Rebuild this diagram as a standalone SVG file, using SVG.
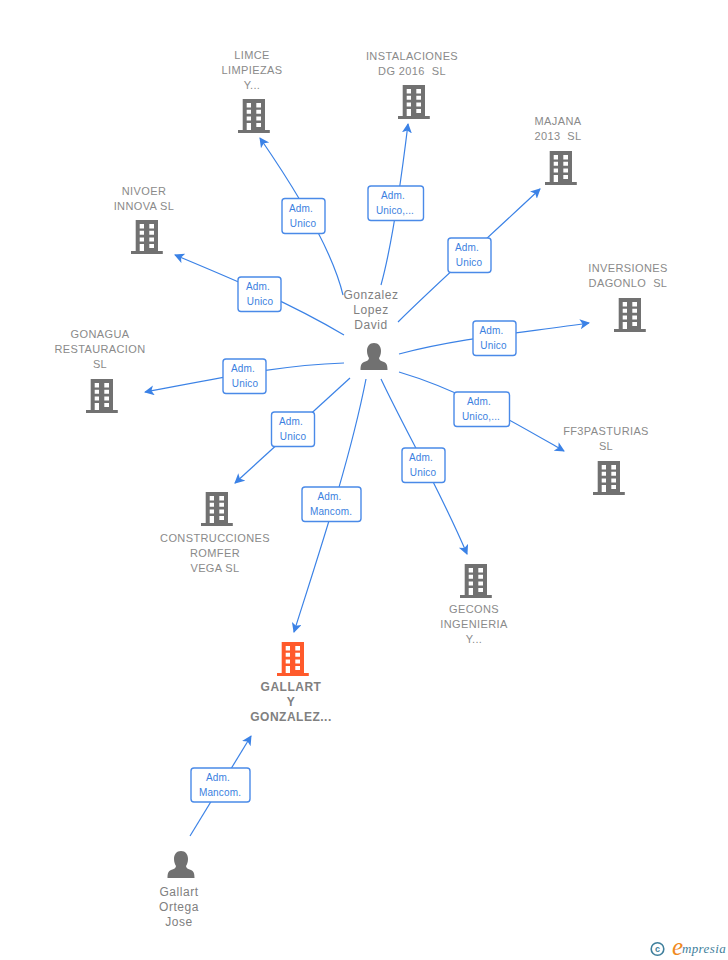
<svg xmlns="http://www.w3.org/2000/svg" xmlns:xlink="http://www.w3.org/1999/xlink" width="728" height="960" viewBox="0 0 728 960">
<style>
text{font-family:"Liberation Sans",Arial,sans-serif;text-anchor:middle;white-space:pre}
.co{font-size:11px;letter-spacing:.38px;fill:#8a8a8a}
.main{font-size:12px;letter-spacing:.5px;font-weight:bold;fill:#808080}
.pe{font-size:12px;letter-spacing:.55px;fill:#808080}
.lb{font-size:10px;letter-spacing:.15px;fill:#3b7fe0}
.box{fill:#fff;stroke:#4a8ae8;stroke-width:1.4}
.c{fill:none;stroke:#3b82e6;stroke-width:1.2;marker-end:url(#a)}
</style>
<defs>
<marker id="a" markerUnits="userSpaceOnUse" markerWidth="12" markerHeight="12" refX="9" refY="5" orient="auto"><path d="M0 0L10 5L0 10L2.500 5Z" fill="#3b82e6"/></marker>
<g id="b"><path fill-rule="evenodd" d="M-11.300 0H11V31H15.800V34H-16V31H-11.300ZM-7.300 4V8.400H-3V4ZM2.300 4V8.400H7V4ZM-7.300 10.700V14.700H-3V10.700ZM2.300 10.700V14.700H7V10.700ZM-7.300 17.400V21.400H-3V17.400ZM2.300 17.400V21.400H7V17.400ZM-7.300 24V31H-3V24ZM2.300 24V28H7V24Z"/></g>
<path id="p" d="M0 0C4.500 0 7 3.500 7 8C7 11 6 13.500 5 15C5 17 7 18 10 19C12.500 20 13.500 22 13.500 27H-13.500C-13.500 22 -12.500 20 -10 19C-7 18 -5 17 -5 15C-6 13.500 -7 11 -7 8C-7 3.500 -4.500 0 0 0Z" fill="#717171"/>
</defs>
<g id="connectors">
<path class="c" d="M343 295C337 270 320 225 260 138"/>
<path class="c" d="M381 285C392 245 400 190 408 124"/>
<path class="c" d="M398 322C430 290 480 245 540 189"/>
<path class="c" d="M399 354C460 338 520 333 589 323"/>
<path class="c" d="M399 372C460 390 510 420 564 451"/>
<path class="c" d="M381 379C405 430 440 490 467 554"/>
<path class="c" d="M366 379C350 460 320 550 294 632"/>
<path class="c" d="M350 378L235 483"/>
<path class="c" d="M344 363C280 365 220 378 145 392"/>
<path class="c" d="M344 335C290 303 235 280 175 255"/>
<path class="c" d="M190 836L251 736"/>
</g>
<g id="labels">
<g><rect class="box" x="282" y="198.500" width="43" height="35" rx="3"/><text class="lb" x="301" y="212">Adm.</text><text class="lb" x="303" y="227">Unico</text></g>
<g><rect class="box" x="368" y="186" width="55.500" height="34.500" rx="3"/><text class="lb" x="393" y="199">Adm.</text><text class="lb" x="395" y="214">Unico,...</text></g>
<g><rect class="box" x="448" y="238" width="43" height="34.500" rx="3"/><text class="lb" x="467" y="251">Adm.</text><text class="lb" x="469" y="266">Unico</text></g>
<g><rect class="box" x="473" y="321" width="43" height="34.500" rx="3"/><text class="lb" x="491.500" y="334">Adm.</text><text class="lb" x="493.500" y="349">Unico</text></g>
<g><rect class="box" x="454" y="392" width="55.500" height="34.500" rx="3"/><text class="lb" x="479" y="405">Adm.</text><text class="lb" x="481" y="420">Unico,...</text></g>
<g><rect class="box" x="402" y="448" width="43" height="34.500" rx="3"/><text class="lb" x="421" y="461">Adm.</text><text class="lb" x="423" y="476">Unico</text></g>
<g><rect class="box" x="302" y="487" width="59" height="34.500" rx="3"/><text class="lb" x="329.500" y="500">Adm.</text><text class="lb" x="331" y="515">Mancom.</text></g>
<g><rect class="box" x="271.500" y="412" width="43" height="34.500" rx="3"/><text class="lb" x="291" y="425">Adm.</text><text class="lb" x="293" y="440">Unico</text></g>
<g><rect class="box" x="223" y="359" width="43" height="34.500" rx="3"/><text class="lb" x="243" y="372">Adm.</text><text class="lb" x="245" y="387">Unico</text></g>
<g><rect class="box" x="238" y="277" width="43" height="34.500" rx="3"/><text class="lb" x="258" y="290">Adm.</text><text class="lb" x="260" y="305">Unico</text></g>
<g><rect class="box" x="191" y="768" width="59" height="34" rx="3"/><text class="lb" x="218" y="781">Adm.</text><text class="lb" x="220" y="796">Mancom.</text></g>
</g>
<g id="n-limce"><use xlink:href="#b" href="#b" x="254" y="99" fill="#717171"/><text class="co" x="252" y="59">LIMCE</text><text class="co" x="252" y="74">LIMPIEZAS</text><text class="co" x="252" y="89">Y...</text></g>
<g id="n-instalaciones"><use xlink:href="#b" href="#b" x="414" y="85" fill="#717171"/><text class="co" x="412" y="60">INSTALACIONES</text><text class="co" x="412" y="75">DG 2016  SL</text></g>
<g id="n-majana"><use xlink:href="#b" href="#b" x="561" y="151" fill="#717171"/><text class="co" x="558" y="125">MAJANA</text><text class="co" x="558" y="140">2013  SL</text></g>
<g id="n-inversiones"><use xlink:href="#b" href="#b" x="630" y="298" fill="#717171"/><text class="co" x="628" y="272">INVERSIONES</text><text class="co" x="628" y="287">DAGONLO  SL</text></g>
<g id="n-ff3"><use xlink:href="#b" href="#b" x="609" y="461" fill="#717171"/><text class="co" x="606" y="435">FF3PASTURIAS</text><text class="co" x="606" y="450">SL</text></g>
<g id="n-gecons"><use xlink:href="#b" href="#b" x="476" y="564" fill="#717171"/><text class="co" x="474" y="613">GECONS</text><text class="co" x="474" y="628">INGENIERIA</text><text class="co" x="474" y="643">Y...</text></g>
<g id="n-construcciones"><use xlink:href="#b" href="#b" x="217" y="492" fill="#717171"/><text class="co" x="215" y="542">CONSTRUCCIONES</text><text class="co" x="215" y="557">ROMFER</text><text class="co" x="215" y="572">VEGA SL</text></g>
<g id="n-gonagua"><use xlink:href="#b" href="#b" x="102" y="379" fill="#717171"/><text class="co" x="100" y="338">GONAGUA</text><text class="co" x="100" y="353">RESTAURACION</text><text class="co" x="100" y="368">SL</text></g>
<g id="n-nivoer"><use xlink:href="#b" href="#b" x="147" y="220" fill="#717171"/><text class="co" x="144" y="195">NIVOER</text><text class="co" x="144" y="210">INNOVA SL</text></g>
<g id="n-gallart"><use xlink:href="#b" href="#b" x="293" y="642" fill="#ff5a2b"/><text class="main" x="291" y="691">GALLART</text><text class="main" x="291" y="706">Y</text><text class="main" x="291" y="721">GONZALEZ...</text></g>
<g id="n-gonzalez"><use xlink:href="#p" href="#p" x="374" y="343"/><text class="pe" x="371" y="299">Gonzalez</text><text class="pe" x="371" y="314">Lopez</text><text class="pe" x="371" y="329">David</text></g>
<g id="n-gallart-jose"><use xlink:href="#p" href="#p" x="181" y="851"/><text class="pe" x="179" y="896">Gallart</text><text class="pe" x="179" y="911">Ortega</text><text class="pe" x="179" y="926">Jose</text></g>
<g id="logo"><circle cx="657.500" cy="949" r="6.300" fill="none" stroke="#3f7f9c" stroke-width="1.600"/><text x="657.500" y="952" style="font-size:9px;font-weight:bold;fill:#3f7f9c">c</text><text x="677.500" y="955" style="font-family:'Liberation Serif',serif;font-size:25px;font-style:italic;fill:#f08a1e">e</text><text x="704" y="953" style="font-family:'Liberation Serif',serif;font-size:13px;font-style:italic;letter-spacing:.4px;fill:#3f7f9c">mpresia</text></g>
</svg>
